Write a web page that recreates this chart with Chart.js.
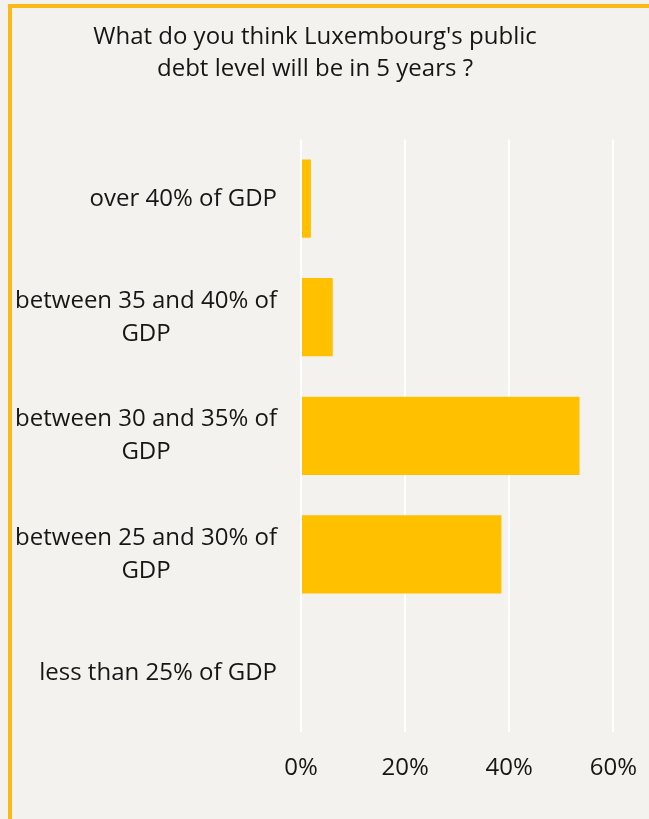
<!DOCTYPE html>
<html>
<head>
<meta charset="utf-8">
<script src="https://cdn.jsdelivr.net/npm/chart.js@4"></script>
<style>
  html, body { margin: 0; padding: 0; background: #f3f2ee; overflow: hidden; }
  .frame {
    position: absolute; left: 8px; top: 4px; width: 700px; height: 900px;
    border-left: 4px solid #fbb918; border-top: 4px solid #fbb918;
    box-sizing: border-box;
  }
  .wrap { position: absolute; left: -29px; top: 0; width: 688px; height: 819px; }
</style>
</head>
<body>
<div class="frame"></div>
<div class="wrap"><canvas id="chart"></canvas></div>
<script>
const titleLines = ["What do you think Luxembourg's public", "debt level will be in 5 years ?"];
const categories = [
  ["over 40% of GDP"],
  ["between 35 and 40% of", "GDP"],
  ["between 30 and 35% of", "GDP"],
  ["between 25 and 30% of", "GDP"],
  ["less than 25% of GDP"],
];
const shares = [1.9, 6.1, 53.5, 38.5, 0];
const xTicks = [0, 20, 40, 60];

const FONT = "'Open Sans', sans-serif";
const TEXT = "#161616";

// y labels: block right-aligned, lines centred inside the block
const yLabelPlugin = {
  id: "yLabels",
  afterDraw(chart) {
    const scale = chart.scales.y;
    const ctx = chart.ctx;
    const lineH = 33;
    ctx.save();
    ctx.font = "24px " + FONT;
    ctx.fillStyle = TEXT;
    ctx.textAlign = "center";
    ctx.textBaseline = "middle";
    const right = chart.chartArea.left - 24;
    categories.forEach((lines, i) => {
      const y = scale.getPixelForTick(i);
      const w = Math.max(...lines.map((l) => ctx.measureText(l).width));
      const cx = right - w / 2;
      const y0 = y - ((lines.length - 1) * lineH) / 2;
      lines.forEach((l, j) => ctx.fillText(l, cx, y0 + j * lineH));
    });
    ctx.restore();
  },
};

new Chart(document.getElementById("chart"), {
  type: "bar",
  data: {
    labels: categories,
    datasets: [
      {
        data: shares,
        backgroundColor: "#ffc000",
        borderWidth: 0,
        barPercentage: 0.66,
        categoryPercentage: 1,
      },
    ],
  },
  options: {
    indexAxis: "y",
    responsive: true,
    maintainAspectRatio: false,
    animation: false,
    layout: { padding: { bottom: 14 } },
    plugins: {
      legend: { display: false },
      tooltip: { enabled: false },
      title: {
        display: true,
        text: titleLines,
        color: TEXT,
        font: { family: FONT, size: 24, weight: "normal", lineHeight: 1.3 },
        padding: { top: 22, bottom: 55 },
      },
    },
    scales: {
      x: {
        min: 0,
        max: 60,
        afterBuildTicks: (s) => { s.ticks = xTicks.map((v) => ({ value: v })); },
        ticks: {
          color: TEXT,
          font: { family: FONT, size: 24 },
          padding: 22,
          callback: (v) => v + "%",
        },
        grid: { color: "#ffffff", lineWidth: 2, drawTicks: false },
        border: { display: false },
      },
      y: {
        afterFit: (s) => { s.width = 330; },
        ticks: { color: "transparent", font: { family: FONT, size: 24 } },
        grid: { display: false },
        border: { display: false },
      },
    },
  },
  plugins: [yLabelPlugin],
});
</script>
</body>
</html>
